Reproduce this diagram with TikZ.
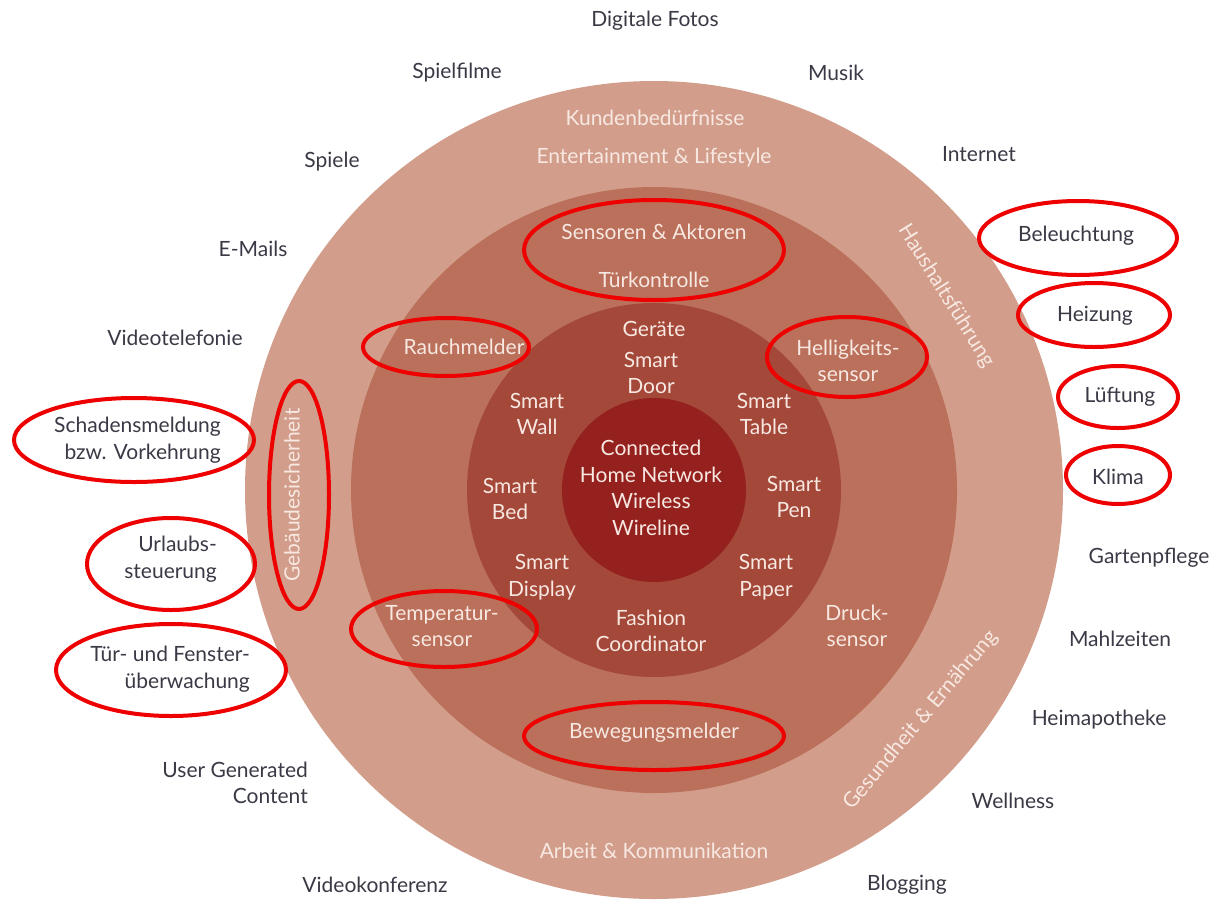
\documentclass[tikz,border=0pt]{standalone}
\usepackage{fontspec}
\setmainfont{Lato}
\definecolor{ringA}{RGB}{210,158,139}
\definecolor{ringB}{RGB}{186,112,90}
\definecolor{ringC}{RGB}{164,72,58}
\definecolor{core}{RGB}{148,33,30}
\definecolor{outtext}{RGB}{58,58,70}
\definecolor{intext}{RGB}{248,232,226}
\definecolor{mark}{RGB}{238,0,0}
\begin{document}
\begin{tikzpicture}[x=1pt,y=-1pt,
  every node/.style={font=\fontsize{21}{26.5}\selectfont, align=center, inner sep=0pt},
  outer/.style={text=outtext},
  lbl/.style={text=intext},
  marker/.style={draw=mark, line width=4pt}]
% canvas
\fill[white] (0,0) rectangle (1214,905);
\useasboundingbox (0,0) rectangle (1214,905);

% concentric rings
\coordinate (c) at (654,490);
\fill[ringA] (c) circle [radius=409pt];
\fill[ringB] (c) circle [radius=303pt];
\fill[ringC] (c) circle [radius=187pt];
\fill[core]  (c) circle [radius=92pt];

% core
\node[lbl] (core) at (651,488) {Connected\\Home Network\\Wireless\\Wireline};

% devices ring
\node[lbl] (geraete) at (654,329) {Geräte};
\node[lbl] (door)    at (651,373) {Smart\\Door};
\node[lbl] (wall)    at (537,414) {Smart\\Wall};
\node[lbl] (table)   at (764,414) {Smart\\Table};
\node[lbl] (bed)     at (510,499) {Smart\\Bed};
\node[lbl] (pen)     at (794,497) {Smart\\Pen};
\node[lbl] (display) at (542,577) {Smart\\Display};
\node[lbl] (paper)   at (766,577) {Smart\\Paper};
\node[lbl] (fashion) at (651,631) {Fashion\\Coordinator};

% sensor ring
\node[lbl] (sensoren) at (654,232) {Sensoren \& Aktoren};
\node[lbl] (tuer)     at (654,280) {Türkontrolle};
\node[lbl] (rauch)    at (464,347) {Rauchmelder};
\node[lbl] (hell)     at (848,361) {Helligkeits-\\sensor};
\node[lbl] (temp)     at (442,626) {Temperatur-\\sensor};
\node[lbl] (druck)    at (857,626) {Druck-\\sensor};
\node[lbl] (beweg)    at (654,733) {Bewegungsmelder};

% needs ring
\node[lbl] (kunden)  at (655,118) {Kundenbedürfnisse};
\node[lbl] (entert)  at (654,158) {Entertainment \& Lifestyle};
\node[lbl] (arbeit)  at (654,851) {Arbeit \& Kommunikation};
\node[lbl, rotate=-58] (haus)   at (946,296) {Haushaltsführung};
\node[lbl, rotate=50]  (gesund) at (921,720) {Gesundheit \& Ernährung};
\node[lbl, rotate=90]  (gebaeude) at (292,495) {Gebäudesicherheit};

% applications around the rings
\node[outer] (fotos)    at (655,21)  {Digitale Fotos};
\node[outer] (filme)    at (457,73)  {Spielfilme};
\node[outer] (musik)    at (836,73)  {Musik};
\node[outer] (spiele)   at (332,162) {Spiele};
\node[outer] (internet) at (979,154) {Internet};
\node[outer] (mails)    at (253,249) {E-Mails};
\node[outer] (videotel) at (175,338) {Videotelefonie};
\node[outer, anchor=east, align=right] (schaden) at (221,440) {Schadensmeldung\\bzw. Vorkehrung};
\node[outer, anchor=east, align=right] (urlaub)  at (217,559) {Urlaubs-\\steuerung};
\node[outer, anchor=east, align=right] (fenster) at (250,669) {Tür- und Fenster-\\überwachung};
\node[outer, anchor=east, align=right] (ugc)     at (308,783) {User Generated\\Content};
\node[outer] (vkonf)    at (375,885) {Videokonferenz};
\node[outer] (blog)     at (907,885) {Blogging};
\node[outer] (wellness) at (1013,801) {Wellness};
\node[outer] (apo)      at (1099,720) {Heimapotheke};
\node[outer] (mahl)     at (1120,639) {Mahlzeiten};
\node[outer] (garten)   at (1149,558) {Gartenpflege};
\node[outer] (klima)    at (1118,477) {Klima};
\node[outer] (lueft)    at (1120,397) {Lüftung};
\node[outer] (heiz)     at (1095,316) {Heizung};
\node[outer] (licht)    at (1076,236) {Beleuchtung};

% red highlight ellipses
\draw[marker] (654,250) ellipse [x radius=130pt, y radius=50pt];
\draw[marker] (446,347) ellipse [x radius=83pt, y radius=29pt];
\draw[marker] (847,357) ellipse [x radius=80pt, y radius=40pt];
\draw[marker] (444,629) ellipse [x radius=93pt, y radius=38pt];
\draw[marker] (654,736) ellipse [x radius=130pt, y radius=34pt];
\draw[marker] (299,495) ellipse [x radius=30pt, y radius=114pt];
\draw[marker] (134,440) ellipse [x radius=120pt, y radius=42pt];
\draw[marker] (171,564) ellipse [x radius=84pt, y radius=46pt];
\draw[marker] (171,670) ellipse [x radius=115pt, y radius=46pt];
\draw[marker] (1078,238) ellipse [x radius=99pt, y radius=37pt];
\draw[marker] (1094,315) ellipse [x radius=76pt, y radius=32pt];
\draw[marker] (1118,397) ellipse [x radius=60pt, y radius=31pt];
\draw[marker] (1118,475) ellipse [x radius=52pt, y radius=29pt];
\end{tikzpicture}
\end{document}
